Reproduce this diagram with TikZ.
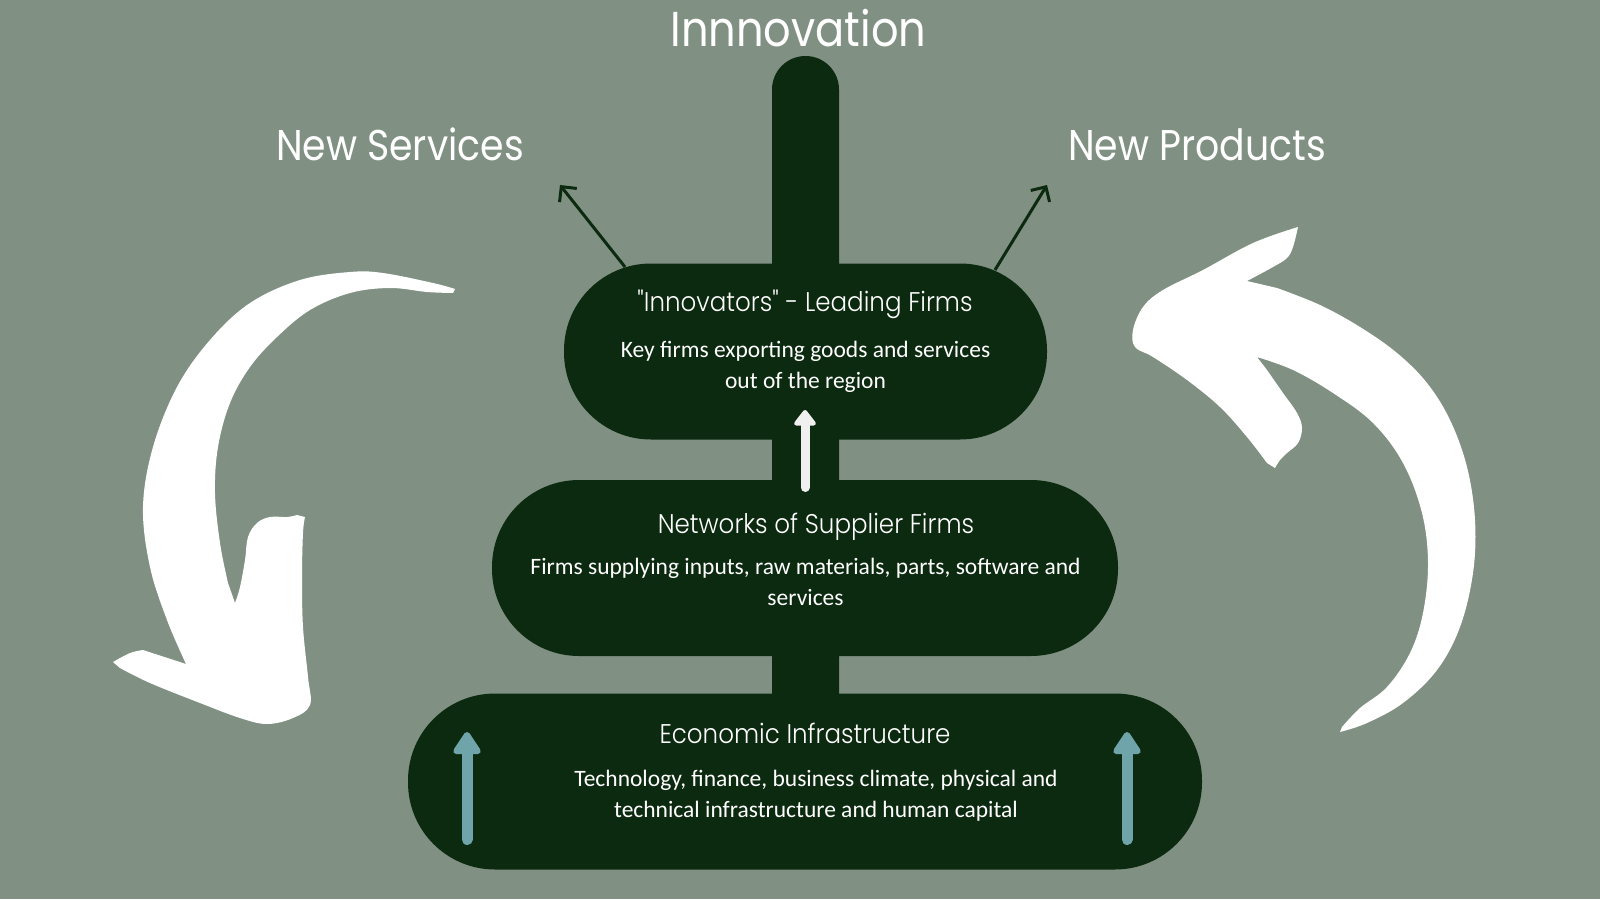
\documentclass[tikz,border=0pt]{standalone}
\usepackage{fontspec}
\setmainfont{Carlito}
\newfontfamily\titlefont{Poppins}[FakeStretch=0.88]
\newfontfamily\headfont{Poppins Light}[FakeStretch=0.91]
\usetikzlibrary{arrows.meta}
\definecolor{bgc}{HTML}{809183}
\definecolor{dkc}{HTML}{0C2A10}
\definecolor{tealc}{HTML}{6FA5AA}
\definecolor{whc}{HTML}{F0F0F0}
\begin{document}
\begin{tikzpicture}[x=1pt,y=-1pt,
  pill/.style={fill=dkc, rounded corners=87pt, inner sep=0pt, minimum height=176pt},
  titletext/.style={anchor=base, inner sep=0pt, text=white, font=\titlefont\fontsize{43}{50}\selectfont},
  headtext/.style={anchor=base, inner sep=0pt, text=white, font=\headfont\fontsize{27}{32}\selectfont},
  bodytext/.style={anchor=base, inner sep=0pt, text=white, font=\fontsize{23.5}{28}\selectfont},
  upwhite/.style={line width=9pt, whc, line cap=round, -{Triangle[length=17pt,width=25pt,round]}},
  upteal/.style={line width=11pt, tealc, line cap=round, -{Triangle[length=25pt,width=31pt,round]}},
  outarrow/.style={line width=3pt, dkc, -{Straight Barb[length=11pt,width=22pt]}},
  bigarrow/.style={fill=white}
]
\useasboundingbox (0,0) rectangle (1600,899);
\fill[bgc] (0,0) rectangle (1600,899);

% central bar
\node[fill=dkc, minimum width=67pt, minimum height=724pt, rounded corners=33.5pt, inner sep=0pt] (bar) at (805.5,418) {};

% pills
\node[pill, minimum width=483pt] (p1) at (805.5,351.5) {};
\node[pill, minimum width=626pt] (p2) at (805,568) {};
\node[pill, minimum width=794pt] (p3) at (805,781.5) {};

% titles
\node[titletext, font=\titlefont\fontsize{49}{56}\selectfont] (tinno) at (798.5,47) {Innnovation};
\node[titletext] (tserv) at (400,160) {New Services};
\node[titletext] (tprod) at (1197,160) {New Products};

% pill texts
\node[headtext] (h1) at (805,311) {"Innovators" - Leading Firms};
\node[bodytext] (b1a) at (805.5,357) {Key firms exporting goods and services};
\node[bodytext] (b1b) at (805.5,388) {out of the region};

\node[headtext] (h2) at (816,533) {Networks of Supplier Firms};
\node[bodytext] (b2a) at (805.5,574) {Firms supplying inputs, raw materials, parts, software and};
\node[bodytext] (b2b) at (805.5,605) {services};

\node[headtext] (h3) at (805,743) {Economic Infrastructure};
\node[bodytext] (b3a) at (816,786) {Technology, finance, business climate, physical and};
\node[bodytext] (b3b) at (816,817) {technical infrastructure and human capital};

% small arrows
\coordinate (wa0) at (805,487.5);
\coordinate (wa1) at (805,410);
\draw[upwhite] (wa0) -- (wa1);
\coordinate (ta0) at (467,839.5);
\coordinate (ta1) at (467,732);
\draw[upteal] (ta0) -- (ta1);
\coordinate (tb0) at (1127,839.5);
\coordinate (tb1) at (1127,732);
\draw[upteal] (tb0) -- (tb1);

% diagonal arrows
\coordinate (sL) at (625,267);
\coordinate (eL) at (560,185);
\coordinate (sR) at (995,270);
\coordinate (eR) at (1047,185);
\draw[outarrow] (sL) -- (eL);
\draw[outarrow] (sR) -- (eR);

% big left arrow
\fill[bigarrow] plot[smooth, tension=0.6] coordinates {(455,289) (433,283) (383,273) (350,272) (300,280) (250,303) (210,340) (177,387) (153,447) (143,507) (150,567) (167,620) (186,664)}
 -- plot[smooth, tension=0.6] coordinates {(143,650) (130,653) (113,662)}
 -- plot[smooth, tension=0.6] coordinates {(120,668) (150,683) (200,703) (240,718) (267,724) (293,718) (310,705) (308,677) (303,627) (302,577) (303,533) (305,517)}
 -- plot[smooth, tension=0.6] coordinates {(297,515) (287,517) (270,517) (257,523) (248,537) (245,560) (240,587) (235,603)}
 -- plot[smooth, tension=0.6] coordinates {(228,583) (220,543) (215,493) (218,447) (230,403) (250,367) (277,337) (310,310) (350,293) (390,288) (427,292) (453,293)} -- cycle;

% big right arrow
\fill[bigarrow] plot[smooth, tension=0.6] coordinates {(1298,227) (1293,247) (1287,258) (1273,267) (1247,281)}
 -- plot[smooth, tension=0.6] coordinates {(1277,288) (1320,305) (1360,327) (1397,353) (1427,383) (1450,420) (1467,467) (1475,520) (1473,573) (1460,627) (1437,670) (1403,703) (1367,723) (1340,732)}
 -- plot[smooth, tension=0.6] coordinates {(1342,727) (1360,708) (1387,687) (1410,653) (1423,613) (1428,563) (1422,513) (1403,463) (1373,423) (1333,393) (1293,370) (1257,357)}
 -- plot[smooth, tension=0.6] coordinates {(1267,370) (1283,393) (1297,413) (1302,428) (1298,443) (1287,453) (1280,460) (1275,468)}
 -- plot[smooth, tension=0.6] coordinates {(1267,463) (1247,437) (1220,407) (1187,380) (1153,357) (1135,347) (1133,330) (1143,307) (1163,290) (1203,270) (1253,243) (1298,227)} -- cycle;
\end{tikzpicture}
\end{document}
